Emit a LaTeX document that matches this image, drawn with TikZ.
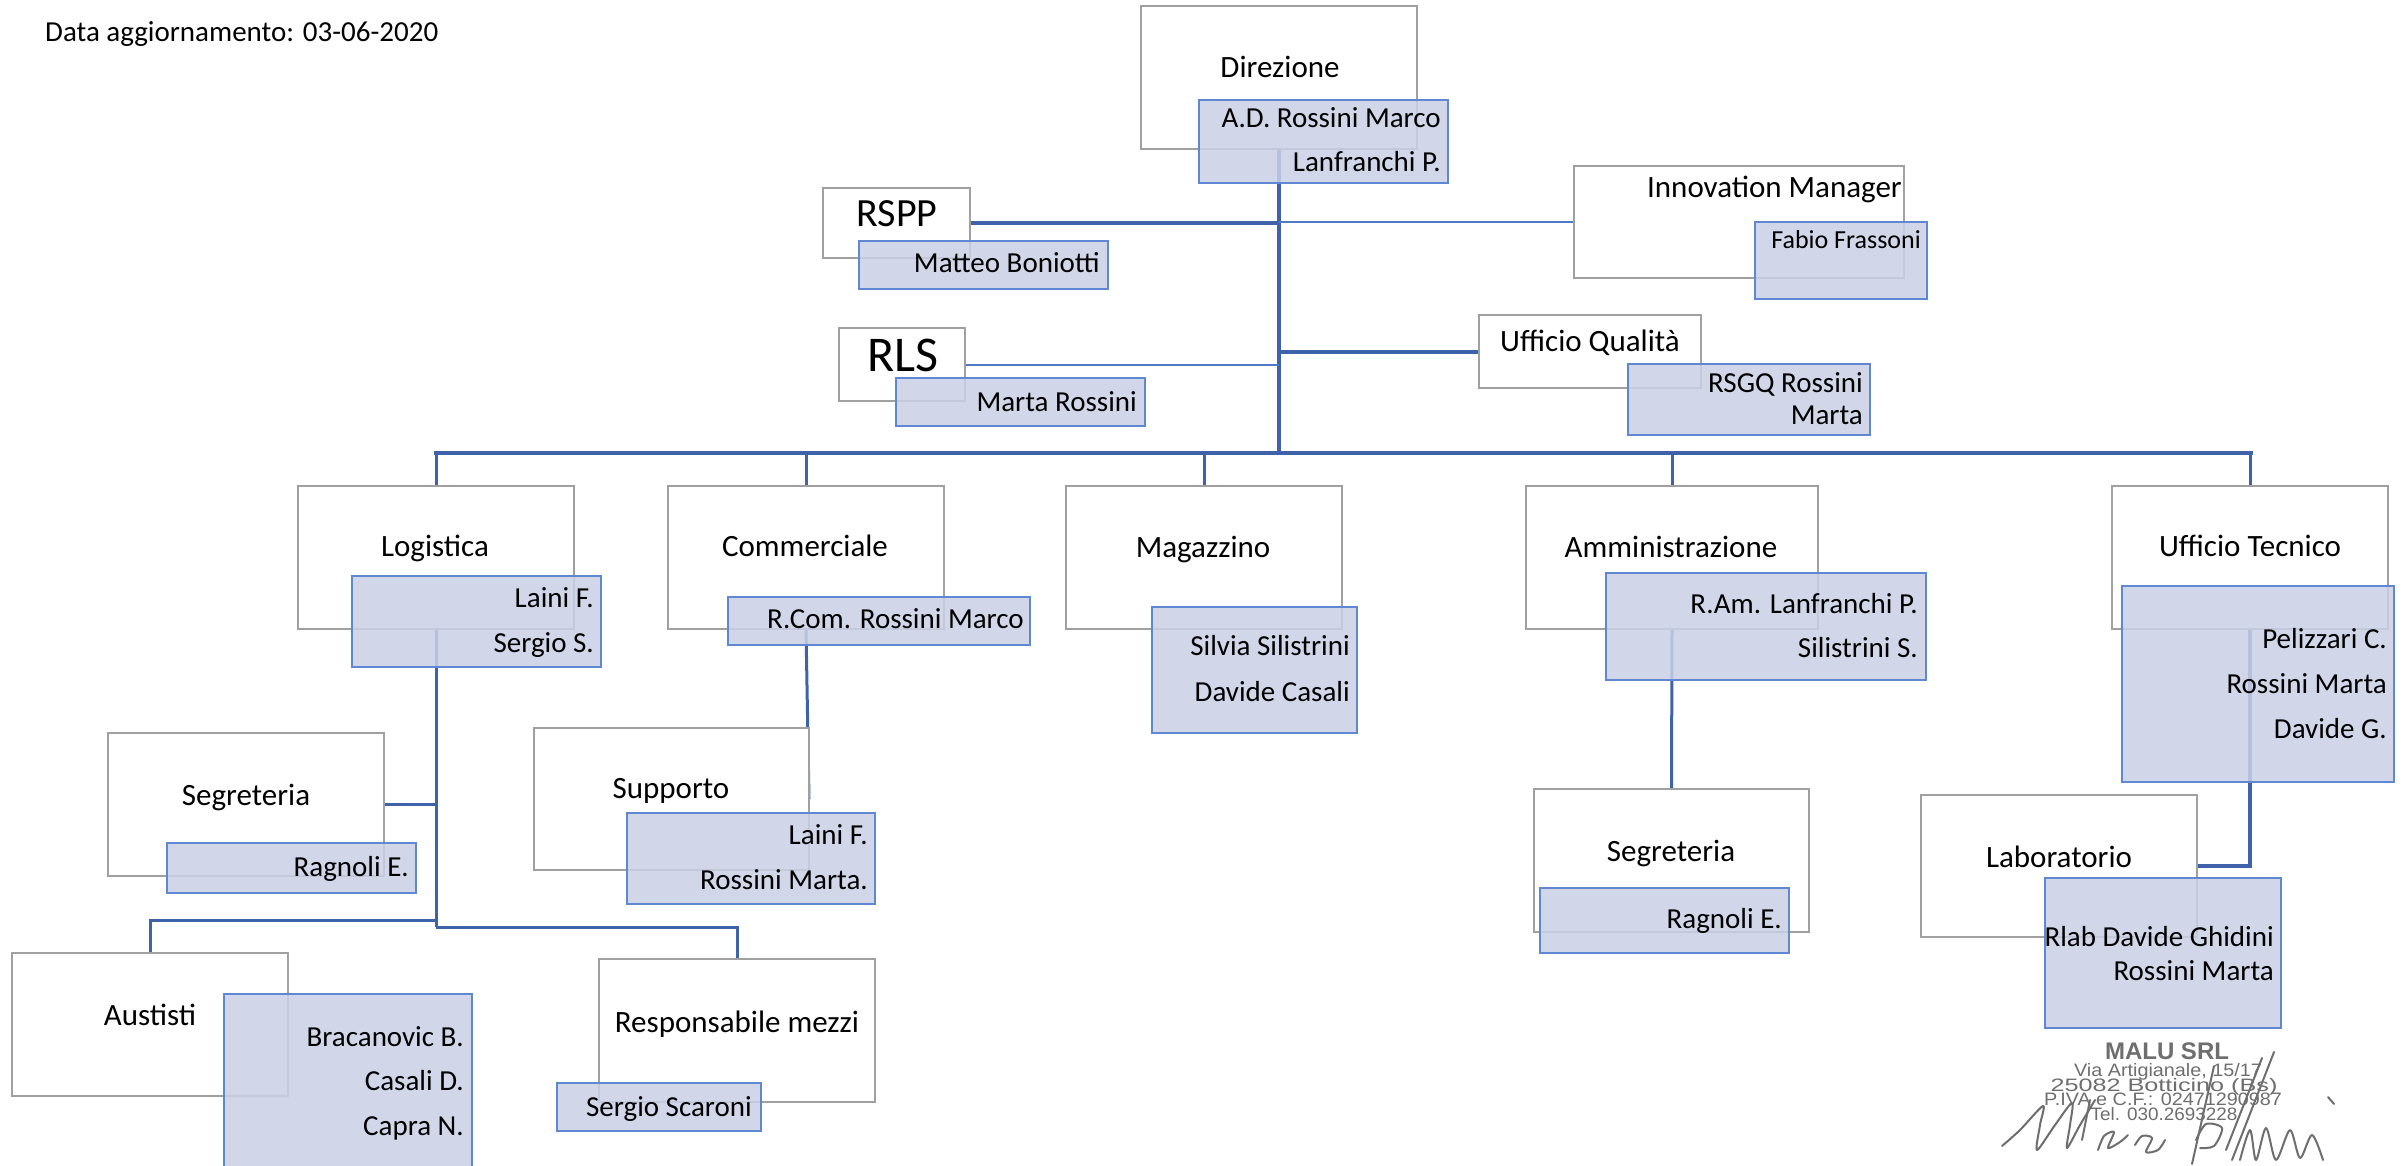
\documentclass[tikz,border=0pt]{standalone}
\usepackage{fontspec}
\setmainfont{Carlito}
\newfontfamily\stampfont{Liberation Sans}
\usepackage{graphicx}
\usetikzlibrary{fit}
\definecolor{conn}{RGB}{63,98,170}
\definecolor{connthin}{RGB}{80,120,200}
\definecolor{tborder}{RGB}{160,160,160}
\definecolor{nfill}{RGB}{201,209,230}
\definecolor{nborder}{RGB}{95,135,210}
\definecolor{stampgray}{RGB}{110,110,110}
\pgfdeclarelayer{back}
\pgfdeclarelayer{bg}
\pgfsetlayers{back,bg,main}
\tikzset{
  tbox/.style={draw=tborder, line width=2pt, fill=white, inner sep=0pt, outer sep=0pt},
  nbox/.style={draw=nborder, line width=2pt, fill=nfill, fill opacity=0.85, inner sep=0pt, outer sep=0pt},
  ttext/.style={anchor=base, inner sep=0pt, font=\fontsize{31}{37}\selectfont},
  ntext/.style={anchor=base east, inner sep=0pt, font=\fontsize{29}{35}\selectfont},
  thickconn/.style={draw=conn, line width=4pt},
  midconn/.style={draw=conn, line width=3pt},
  thinconn/.style={draw=connthin, line width=2pt},
  stamptext/.style={anchor=base, inner sep=0pt, text=stampgray, font=\stampfont\fontsize{18}{18}\selectfont},
  sig/.style={draw=stampgray, line width=2pt, line cap=round, line join=round},
}
\newcommand\boxT[3]{\node[tbox, fit={#2 #3}] (#1) {};}
\newcommand\boxN[3]{\node[nbox, fit={#2 #3}] (#1) {};}
\begin{document}
\begin{tikzpicture}[x=1pt,y=-1pt]
\useasboundingbox (0,0) rectangle (2404,1166);
\begin{pgfonlayer}{back}
\fill[white] (0,0) rectangle (2404,1166);
\end{pgfonlayer}

% title boxes
\boxT{dir}{(1141,6)}{(1417,149)}
\boxT{rspp}{(823,188)}{(970,258)}
\boxT{rls}{(839,328)}{(965,401)}
\boxT{inno}{(1574,166)}{(1904,278)}
\boxT{uq}{(1479,315)}{(1701,388)}
\boxT{log}{(298,486)}{(574,629)}
\boxT{com}{(668,486)}{(944,629)}
\boxT{mag}{(1066,486)}{(1342,629)}
\boxT{amm}{(1526,486)}{(1818,629)}
\boxT{ut}{(2112,486)}{(2388,629)}
\boxT{segL}{(108,733)}{(384,876)}
\boxT{sup}{(534,728)}{(809,870)}
\boxT{aust}{(12,953)}{(288,1096)}
\boxT{resp}{(599,959)}{(875,1102)}
\boxT{segR}{(1534,789)}{(1809,932)}
\boxT{lab}{(1921,795)}{(2197,937)}

% name boxes
\boxN{dirN}{(1199,100)}{(1448,183)}
\boxN{rsppN}{(859,241)}{(1108,289)}
\boxN{rlsN}{(896,378)}{(1145,426)}
\boxN{innoN}{(1755,222)}{(1927,299)}
\boxN{uqN}{(1628,364)}{(1870,435)}
\boxN{logN}{(352,576)}{(601,667)}
\boxN{comN}{(728,597)}{(1030,645)}
\boxN{magN}{(1152,607)}{(1357,733)}
\boxN{ammN}{(1606,573)}{(1926,680)}
\boxN{utN}{(2122,586)}{(2394,782)}
\boxN{segLN}{(167,843)}{(416,893)}
\boxN{supN}{(627,813)}{(875,904)}
\boxN{austN}{(224,994)}{(472,1185)}
\boxN{respN}{(557,1083)}{(761,1131)}
\boxN{segRN}{(1540,888)}{(1789,953)}
\boxN{labN}{(2045,878)}{(2281,1028)}

% connectors
\begin{pgfonlayer}{bg}
\coordinate (busL) at (436,453);
\coordinate (busR) at (2251,453);
\coordinate (lj) at (436,927);
\coordinate (ljl) at (436,920);
\draw[thickconn] (dir.south) -- (dir.south |- busL);
\draw[thickconn] (rspp.east) -- (dir.south |- rspp.east);
\draw[thinconn] (dir.south |- inno.west) -- (inno.west);
\draw[thinconn] (rls.east) -- (dir.south |- rls.east);
\draw[thickconn] (dir.south |- uq.west) -- (uq.west);
\draw[thickconn, line cap=rect] (busL) -- (busR);
\foreach \n in {log,com,mag,amm,ut} \draw[midconn] (\n.north |- busL) -- (\n.north);
\draw[midconn] (log.south) -- (lj);
\draw[midconn] (segL.east) -- (log.south |- segL.east);
\draw[midconn] (aust.north) -- (aust.north |- ljl) -- (ljl);
\draw[midconn] (lj) -- (resp.north |- lj) -- (resp.north);
\draw[midconn] (com.south) -- (sup.east);
\draw[midconn] (amm.south) -- (segR.north);
\draw[thickconn] (ut.south) -- (ut.south |- lab.east) -- (lab.east);
\end{pgfonlayer}

% texts
\node[anchor=base west, inner sep=0pt, font=\fontsize{29}{35}\selectfont] (date) at (45,42) {Data aggiornamento: 03-06-2020};

\node[ttext] (dir-t) at (1280,78) {Direzione};
\node[ttext, font=\fontsize{40}{46}\selectfont] (rspp-t) at (897,227) {RSPP};
\node[ttext, font=\fontsize{50}{56}\selectfont] (rls-t) at (903,371) {RLS};
\node[ttext, anchor=base east] (inno-t) at (1902,198) {Innovation Manager};
\node[ttext] (uq-t) at (1590,352) {Ufficio Qualità};
\node[ttext] (log-t) at (435,556) {Logistica};
\node[ttext] (com-t) at (805,556) {Commerciale};
\node[ttext] (mag-t) at (1203,557) {Magazzino};
\node[ttext] (amm-t) at (1671,557) {Amministrazione};
\node[ttext] (ut-t) at (2250,556) {Ufficio Tecnico};
\node[ttext] (segL-t) at (246,805) {Segreteria};
\node[ttext] (sup-t) at (671,798) {Supporto};
\node[ttext] (aust-t) at (150,1025) {Austisti};
\node[ttext] (resp-t) at (737,1032) {Responsabile mezzi};
\node[ttext] (segR-t) at (1671,861) {Segreteria};
\node[ttext] (lab-t) at (2059,867) {Laboratorio};

\node[ntext] (dirN-1) at (1441,128) {A.D. Rossini Marco};
\node[ntext] (dirN-2) at (1441,172) {Lanfranchi P.};
\node[ntext] (rsppN-1) at (1100,273) {Matteo Boniotti};
\node[ntext] (rlsN-1) at (1137,411) {Marta Rossini};
\node[ntext, font=\fontsize{26}{31}\selectfont] (innoN-1) at (1921,249) {Fabio Frassoni};
\node[ntext] (uqN-1) at (1863,392) {RSGQ Rossini};
\node[ntext] (uqN-2) at (1863,424) {Marta};
\node[ntext] (logN-1) at (594,607) {Laini F.};
\node[ntext] (logN-2) at (594,652) {Sergio S.};
\node[ntext] (comN-1) at (1024,628) {R.Com. Rossini Marco};
\node[ntext] (supN-1) at (868,844) {Laini F.};
\node[ntext] (supN-2) at (868,889) {Rossini Marta.};
\node[ntext] (magN-1) at (1350,655) {Silvia Silistrini};
\node[ntext] (magN-2) at (1350,701) {Davide Casali};
\node[ntext] (ammN-1) at (1918,613) {R.Am. Lanfranchi P.};
\node[ntext] (ammN-2) at (1918,657) {Silistrini S.};
\node[ntext] (segRN-1) at (1782,928) {Ragnoli E.};
\node[ntext] (utN-1) at (2387,648) {Pelizzari C.};
\node[ntext] (utN-2) at (2387,693) {Rossini Marta};
\node[ntext] (utN-3) at (2387,738) {Davide G.};
\node[ntext] (labN-1) at (2274,946) {Rlab Davide Ghidini};
\node[ntext] (labN-2) at (2274,980) {Rossini Marta};
\node[ntext] (segLN-1) at (409,876) {Ragnoli E.};
\node[ntext] (austN-1) at (464,1046) {Bracanovic B.};
\node[ntext] (austN-2) at (464,1090) {Casali D.};
\node[ntext] (austN-3) at (464,1135) {Capra N.};
\node[ntext] (respN-1) at (752,1116) {Sergio Scaroni};

% stamp
\node[stamptext, font=\stampfont\bfseries\fontsize{24}{24}\selectfont] (st1) at (2167,1059) {MALU SRL};
\node[stamptext] (st2) at (2168,1076) {\scalebox{1.1}[1]{Via Artigianale, 15/17}};
\node[stamptext] (st3) at (2164,1091) {\scalebox{1.4}[1]{25082 Botticino (Bs)}};
\node[stamptext] (st4) at (2163,1105) {\scalebox{1.1}[1]{P.IVA e C.F.: 02471290987}};
\node[stamptext] (st5) at (2164,1120) {\scalebox{1.05}[1]{Tel. 030.2693228}};

% signature
\draw[sig] plot[smooth] coordinates {(2002,1146) (2020,1130) (2043,1106) (2040,1125) (2037,1150) (2055,1125) (2072,1103) (2070,1125) (2067,1148) (2080,1125) (2095,1100)};
\draw[sig] (2090,1100) -- (2082,1140);
\draw[sig] plot[smooth] coordinates {(2098,1150) (2104,1136) (2114,1132) (2108,1148) (2120,1142) (2128,1135)};
\draw[sig] plot[smooth] coordinates {(2135,1145) (2142,1136) (2152,1138) (2146,1152) (2158,1150) (2165,1140)};
\draw[sig] (2214,1066) -- (2192,1164);
\draw[sig] plot[smooth] coordinates {(2196,1140) (2206,1124) (2222,1128) (2214,1146) (2200,1148)};
\draw[sig] (2274,1052) -- (2232,1160);
\draw[sig] (2262,1058) -- (2226,1150);
\draw[sig] plot[smooth] coordinates {(2240,1160) (2250,1130) (2256,1160) (2266,1128) (2276,1160) (2290,1130) (2300,1158) (2312,1135) (2323,1160)};
\draw[sig] (2328,1097) -- (2334,1104);
\end{tikzpicture}
\end{document}
